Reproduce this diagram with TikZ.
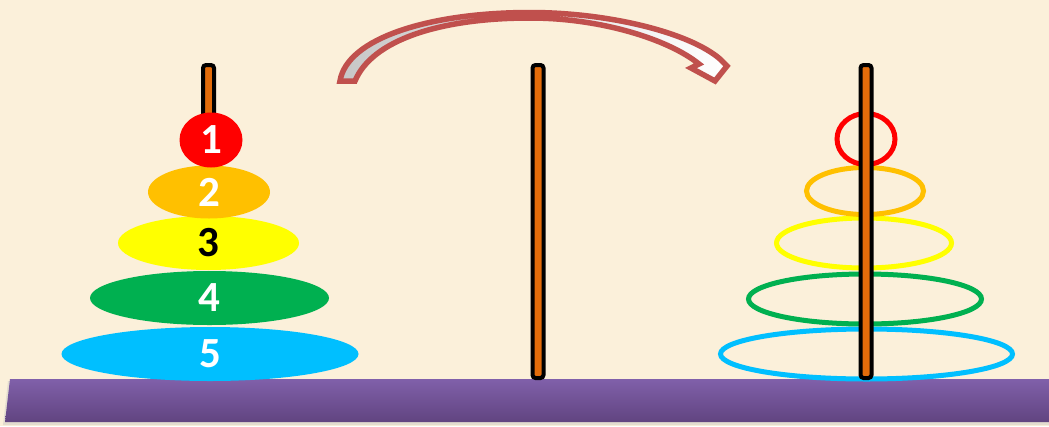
\documentclass[tikz,border=0pt]{standalone}
\usepackage{fontspec}
\setmainfont{Carlito}
\usetikzlibrary{shapes.geometric}
\definecolor{bg}{HTML}{FBF0DA}
\definecolor{basetop}{HTML}{8060AA}
\definecolor{basebot}{HTML}{614480}
\definecolor{pegor}{HTML}{E36C0A}
\definecolor{arrowred}{HTML}{C0504D}
\definecolor{dred}{HTML}{FF0000}
\definecolor{dorange}{HTML}{FFC000}
\definecolor{dyellow}{HTML}{FFFF00}
\definecolor{dgreen}{HTML}{00B050}
\definecolor{dcyan}{HTML}{00BFFF}
\begin{document}
\begin{tikzpicture}[x=1pt,y=-1pt,
  disk/.style={ellipse, inner sep=0pt, font=\fontsize{43}{43}\selectfont\bfseries, text=white},
  ring/.style={ellipse, inner sep=0pt, line width=5pt},
  peg/.style={draw=black, fill=pegor, line width=4pt, rounded corners=3pt}]
\useasboundingbox (0,0) rectangle (1049,426);
\fill[bg] (0,0) rectangle (1049,426);
% base
\fill[black!25, opacity=0.4] (8,381) -- (1049,381) -- (1049,425) -- (3,425) -- cycle;
\shade[top color=basetop, bottom color=basebot] (10,379) -- (1049,379) -- (1049,422) -- (5,422) -- cycle;
% pegs
\draw[peg] (203,65) rectangle (214,150);
\draw[peg] (532.5,65) rectangle (543.5,378);
% right rings (behind peg)
\node[ring, draw=dcyan, minimum width=292pt, minimum height=50pt] (r5) at (866.5,354) {};
\node[ring, draw=dgreen, minimum width=233pt, minimum height=50pt] (r4) at (865,299) {};
\node[ring, draw=dyellow, minimum width=175pt, minimum height=50pt] (r3) at (864,243) {};
\node[ring, draw=dorange, minimum width=117pt, minimum height=47pt] (r2) at (865,191) {};
\node[ring, draw=dred, minimum width=58pt, minimum height=51pt] (r1) at (866,139) {};
\draw[peg] (860.5,65) rectangle (871.5,378);
% left disks
\node[disk, fill=dcyan, minimum width=297pt, minimum height=54pt] (d5) at (210,354) {5};
\node[disk, fill=dgreen, minimum width=239pt, minimum height=54pt] (d4) at (209.5,298) {4};
\node[disk, fill=dyellow, minimum width=181pt, minimum height=54pt, text=black] (d3) at (208.5,243) {3};
\node[disk, fill=dorange, minimum width=122pt, minimum height=53pt] (d2) at (209,192) {2};
\node[disk, fill=dred, minimum width=63pt, minimum height=55pt] (d1) at (211,140) {1};
% curved arrow
\draw[draw=arrowred, line width=5.5pt, line join=miter, left color=black!22, right color=white]
  (340,81) .. controls (347,38) and (430,12.5) .. (530,12.5)
  .. controls (610,12.5) and (690,33) .. (720,59)
  -- (727,66) -- (715,81) -- (691,68) -- (699,64)
  .. controls (668,39) and (600,18) .. (530,18)
  .. controls (440,18) and (372,40) .. (355,81) -- cycle;
\end{tikzpicture}
\end{document}
